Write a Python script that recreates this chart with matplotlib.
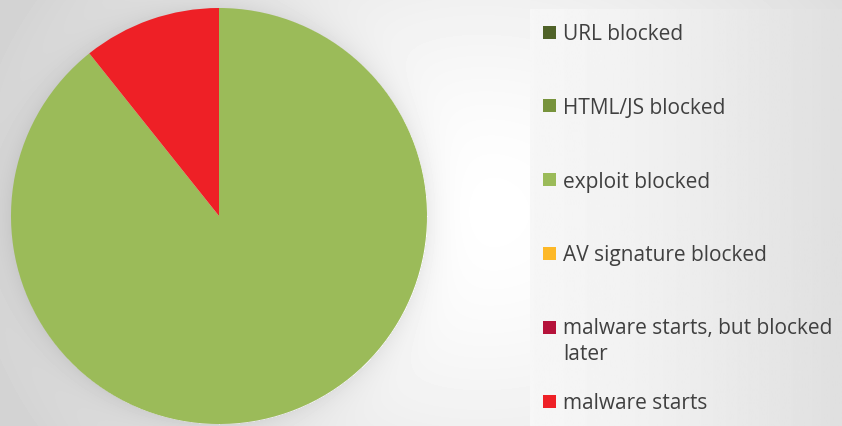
import numpy as np
import matplotlib.pyplot as plt
from matplotlib.patches import Rectangle

labels = ['URL blocked', 'HTML/JS blocked', 'exploit blocked', 'AV signature blocked',
          'malware starts, but blocked\nlater', 'malware starts']
values = [0, 0, 25, 0, 0, 3]
colors = ['#4F6228', '#77933C', '#9BBB59', '#FDB827', '#B5123A', '#EE2026']

W, H = 842, 427
fig = plt.figure(figsize=(W / 100, H / 100), dpi=100)

# background: soft radial gradient plus a faint shadow around the pie
bg = fig.add_axes([0, 0, 1, 1])
yy, xx = np.mgrid[0:H, 0:W]
r = np.hypot((xx - 480) / 520, (yy - 213) / 420)
img = 1 - 0.17 * np.clip(r, 0, 1) ** 1.6
d = np.hypot(xx - 219, yy - 217) - 208
img -= 0.07 * np.exp(-np.clip(d, 0, None) / 14) * (d > 0)
bg.imshow(img, cmap='gray', vmin=0, vmax=1, extent=[0, W, H, 0], aspect='auto')
# legend panel: horizontal gradient
gx = np.linspace(0, 1, 200)[None, :]
bg.imshow(0.965 - 0.09 * gx ** 1.4, cmap='gray', vmin=0, vmax=1,
          extent=[530, W, H, 10], aspect='auto')
bg.set_xlim(0, W)
bg.set_ylim(H, 0)
bg.axis('off')

ax = fig.add_axes([11 / W, 2 / H, 416 / W, 416 / H])
ax.pie(values, colors=colors, startangle=90, counterclock=False,
       wedgeprops=dict(linewidth=0))
ax.set_xlim(-1, 1)
ax.set_ylim(-1, 1)
ax.set_aspect('equal')

# legend
for i, (lab, col) in enumerate(zip(labels, colors)):
    y = 33 + 73.8 * i
    bg.add_patch(Rectangle((543, y - 6.5), 13, 13, color=col, lw=0))
    two = '\n' in lab
    bg.text(563, y - 10 if two else y + 1.5, lab, fontsize=15, family='Open Sans',
            color='#404040', va='top' if two else 'center', linespacing=1.32)

fig.savefig('out.png', dpi=100)
